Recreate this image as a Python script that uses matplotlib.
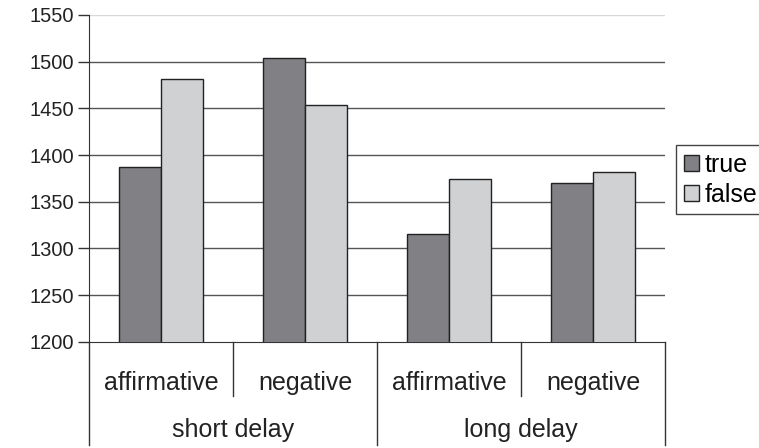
import matplotlib.pyplot as plt
import numpy as np

plt.rcParams['font.family'] = ['Liberation Sans', 'DejaVu Sans']

categories = ["affirmative", "negative", "affirmative", "negative"]
groups = ["short delay", "long delay"]
true_vals = [1387, 1504, 1315, 1370]
false_vals = [1481, 1454, 1374, 1382]
series = ["true", "false"]

DARK = '#808085'
LIGHT = '#d0d1d3'
TXT = '#222222'

fig = plt.figure(figsize=(7.59, 4.48), dpi=100)
W, H = 759, 448
x0, x1, ytop, ybot = 89, 665, 15, 341.7
ax = fig.add_axes([x0 / W, 1 - ybot / H, (x1 - x0) / W, (ybot - ytop) / H])

x = np.arange(len(categories))
bw = 0.29
b1 = ax.bar(x - bw / 2, true_vals, bw, color=DARK, edgecolor='#222222', linewidth=1, zorder=3, label=series[0])
b2 = ax.bar(x + bw / 2, false_vals, bw, color=LIGHT, edgecolor='#222222', linewidth=1, zorder=3, label=series[1])

ax.set_ylim(1200, 1550)
ax.set_xlim(-0.5, len(categories) - 0.5)
yt = np.arange(1200, 1551, 50)
ax.set_yticks(yt)
ax.tick_params(axis='y', labelsize=14.5, labelcolor=TXT, length=8, width=1, color='#333333', pad=3)
ax.set_xticks([])
for v in yt[1:-1]:
    ax.axhline(v, color='#555555', linewidth=1, zorder=1)
ax.axhline(1550, color='#d8d8d8', linewidth=1, zorder=1)

for s in ['top', 'right']:
    ax.spines[s].set_visible(False)
ax.spines['left'].set_color('#333333')
ax.spines['bottom'].set_color('#333333')

# two-level category axis
trans = ax.get_xaxis_transform()
for b in [-0.5, 1.5, 3.5]:
    ax.plot([b, b], [0, -0.316], transform=trans, color='#333333', lw=1, clip_on=False)
for b in [0.5, 2.5]:
    ax.plot([b, b], [0, -0.166], transform=trans, color='#333333', lw=1, clip_on=False)
for i, c in enumerate(categories):
    ax.text(i, -0.125, c, transform=trans, ha='center', va='center', fontsize=18, color=TXT)
for g, name in enumerate(groups):
    ax.text(2 * g + 0.5, -0.27, name, transform=trans, ha='center', va='center', fontsize=18, color=TXT)

fig.legend(handles=[b1, b2], labels=series, loc='upper left', bbox_to_anchor=(676 / W, 1 - 145 / H),
           fontsize=18, frameon=True, fancybox=False, edgecolor='#444444', framealpha=1,
           handlelength=0.6, handleheight=0.6, handletextpad=0.25, borderpad=0.3,
           labelspacing=0.25, borderaxespad=0)

fig.savefig('out.png', dpi=100)
